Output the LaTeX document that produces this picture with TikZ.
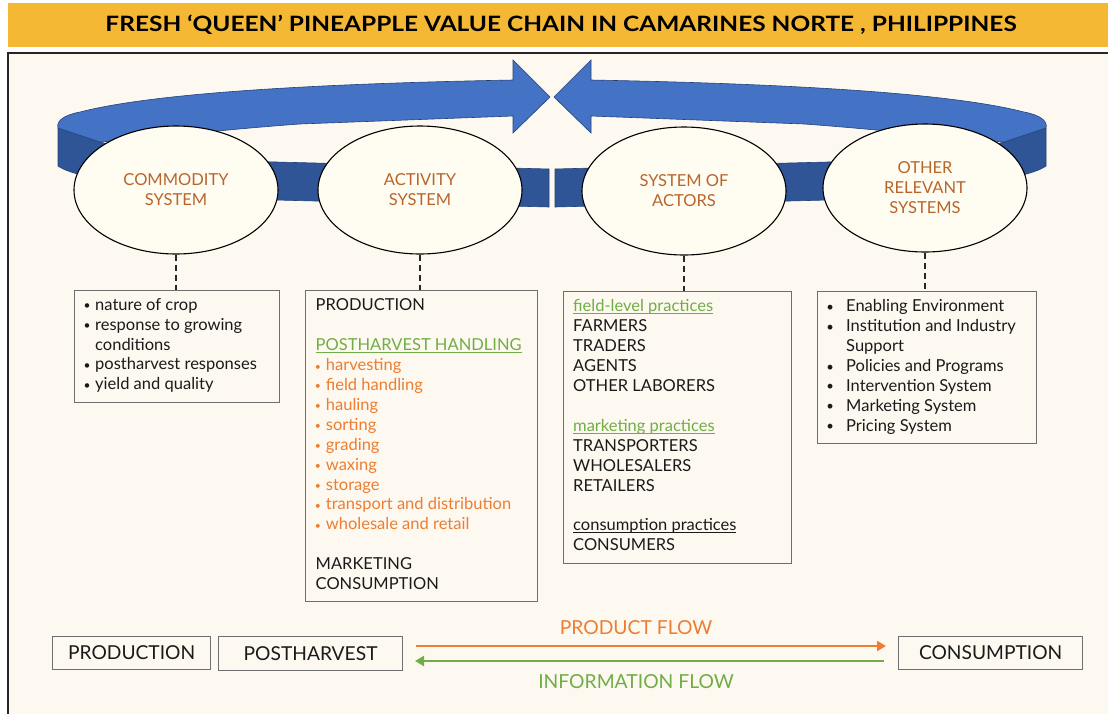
\documentclass[tikz,border=0pt]{standalone}
\usepackage{fontspec}
\usepackage{graphicx}
\setmainfont{Lato}
\usetikzlibrary{shapes.geometric,arrows.meta}
\definecolor{bg}{HTML}{FDF9F0}
\definecolor{ellfill}{HTML}{FFFDF2}
\definecolor{titlebar}{HTML}{F4B834}
\definecolor{bluetop}{HTML}{4472C4}
\definecolor{blueside}{HTML}{2F5597}
\definecolor{blueline}{HTML}{22427A}
\definecolor{ellText}{HTML}{B8652C}
\definecolor{orangeT}{HTML}{ED7D31}
\definecolor{greenT}{HTML}{70AD47}
\definecolor{boxline}{HTML}{6E6E6E}
\definecolor{txtcol}{HTML}{1A1A1A}
\newsavebox\ulbox
\newcommand\myul[1]{\sbox\ulbox{#1}\rlap{\rule[-2.4pt]{\wd\ulbox}{0.9pt}}\usebox\ulbox}
\newcommand\smallbul{\raisebox{0.6pt}{\fontsize{12}{12}\selectfont\textbullet}}
\newcommand\bul{\makebox[11pt][l]{\makebox[6pt][c]{\smallbul}}}
\newcommand\nob{\makebox[11pt][l]{}}
\newcommand\oi[1]{\textcolor{orangeT}{\makebox[10.2pt][l]{\makebox[4.4pt][c]{\raisebox{0.6pt}{\fontsize{10.5}{10.5}\selectfont\textbullet}}}#1}}
\newcommand\wbul{\makebox[19pt][l]{\makebox[6pt][c]{\raisebox{0.6pt}{\fontsize{13}{13}\selectfont\textbullet}}}}
\newcommand\bandhalf{%
 \filldraw[fill=blueside, draw=blueline, line width=0.6pt] (58,128) -- (58,166) .. controls (66,172) and (90,178) .. (130,186) .. controls (170,195) and (230,199) .. (276,200) -- (549,207) -- (549,169) -- (276,162) .. controls (200,160) and (130,150) .. (100,142) -- cycle;
 \filldraw[fill=bluetop, draw=blueline, line width=0.6pt] (58,128) .. controls (56,121) and (64,115) .. (80,112) .. controls (150,94) and (300,84) .. (513,80) -- (513,60) -- (550,97) -- (513,133) -- (513,116) -- (300,124) .. controls (230,129) and (150,138) .. (100,142) -- cycle;}
\begin{document}
\begin{tikzpicture}[x=1pt,y=-1pt,
 ell/.style={ellipse, draw=black, line width=1.1pt, fill=ellfill, minimum width=204pt, minimum height=128pt, inner sep=0pt, align=center, text=ellText, font=\fontsize{16.5}{20}\selectfont},
 infobox/.style={draw=boxline, line width=1.2pt, fill=bg, anchor=north west, inner sep=0pt},
 boxtext/.style={anchor=north west, inner sep=0pt, align=left, text=txtcol, font=\fontsize{16.5}{19.9}\selectfont},
 dashc/.style={draw=black!85, line width=1.8pt, dash pattern=on 6pt off 4pt},
 flowbox/.style={draw=boxline, line width=1.2pt, fill=bg, anchor=north west, inner sep=0pt, text=txtcol, font=\fontsize{19.2}{22}\selectfont},
 flowlab/.style={font=\fontsize{19.3}{22}\selectfont, inner sep=0pt},
 flowarrow/.style={line width=2.6pt, -{Triangle[length=9pt, width=10pt]}}
 ]
\useasboundingbox (0,0) rectangle (1108,713);
\clip (0,0) rectangle (1108,713);
\fill[white] (0,0) rectangle (1108,713);
% title
\fill[titlebar] (8,3) rectangle (1115,47);
\node[anchor=base, inner sep=0pt] (title) at (561,31) {\resizebox{911pt}{16.5pt}{\bfseries FRESH ‘QUEEN’ PINEAPPLE VALUE CHAIN IN CAMARINES NORTE , PHILIPPINES}};
% panel
\filldraw[fill=bg, draw=black!85, line width=1.8pt] (8,53) rectangle (1130,730);
% band
\bandhalf
\begin{scope}[xshift=1104pt, xscale=-1]
\bandhalf
\end{scope}
% ellipses
\node[ell] (comm) at (176,190) {COMMODITY\\SYSTEM};
\node[ell] (act) at (420,190) {ACTIVITY\\SYSTEM};
\node[ell] (actors) at (684,191) {SYSTEM OF\\ACTORS};
\node[ell] (other) at (925,188) {OTHER\\RELEVANT\\SYSTEMS};
% boxes
\node[infobox, minimum width=205pt, minimum height=112pt] (commbox) at (74,290) {};
\node[infobox, minimum width=232pt, minimum height=311pt] (actbox) at (305,290) {};
\node[infobox, minimum width=228pt, minimum height=272pt] (actorsbox) at (563,291) {};
\node[infobox, minimum width=219pt, minimum height=152pt] (otherbox) at (817,291) {};
% dashed connectors
\draw[dashc] (comm.south) -- (comm.south |- commbox.north);
\draw[dashc] (act.south) -- (act.south |- actbox.north);
\draw[dashc] (actors.south) -- (actors.south |- actorsbox.north);
\draw[dashc] (other.south) -- (other.south |- otherbox.north);
% box texts
\node[boxtext] (commtxt) at (84,296.1) {\strut\bul nature of crop\\\bul response to growing\\\nob conditions\\\bul postharvest responses\\\bul yield and quality};
\node[boxtext] (acttxt) at (315.5,296.8) {\strut PRODUCTION\\\strut\\\textcolor{greenT}{\myul{POSTHARVEST HANDLING}}\\\oi{harvesting}\\\oi{field handling}\\\oi{hauling}\\\oi{sorting}\\\oi{grading}\\\oi{waxing}\\\oi{storage}\\\oi{transport and distribution}\\\oi{wholesale and retail}\\\strut\\MARKETING\\CONSUMPTION};
\node[boxtext] (actorstxt) at (573,297.8) {\strut\textcolor{greenT}{\myul{field-level practices}}\\FARMERS\\TRADERS\\AGENTS\\OTHER LABORERS\\\strut\\\textcolor{greenT}{\myul{marketing practices}}\\TRANSPORTERS\\WHOLESALERS\\RETAILERS\\\strut\\\myul{consumption practices}\\CONSUMERS};
\node[boxtext] (othertxt) at (827,297.8) {\strut\wbul Enabling Environment\\\wbul Institution and Industry\\\makebox[19pt]{}Support\\\wbul Policies and Programs\\\wbul Intervention System\\\wbul Marketing System\\\wbul Pricing System};
% bottom flow
\node[flowbox, minimum width=158pt, minimum height=33pt] (bprod) at (52,636) {PRODUCTION};
\node[flowbox, minimum width=184pt, minimum height=34pt] (bpost) at (218,636) {POSTHARVEST};
\node[flowbox, minimum width=184pt, minimum height=33pt] (bcons) at (898,636) {CONSUMPTION};
\coordinate (pfs) at (416,646);
\coordinate (pfe) at (886,646);
\coordinate (ifs) at (884,661);
\coordinate (ife) at (415,661);
\draw[flowarrow, orangeT] (pfs) -- (pfe);
\draw[flowarrow, greenT] (ifs) -- (ife);
\node[flowlab, text=orangeT] (pflab) at (636,628) {PRODUCT FLOW};
\node[flowlab, text=greenT] (iflab) at (636,682) {INFORMATION FLOW};
\end{tikzpicture}
\end{document}
